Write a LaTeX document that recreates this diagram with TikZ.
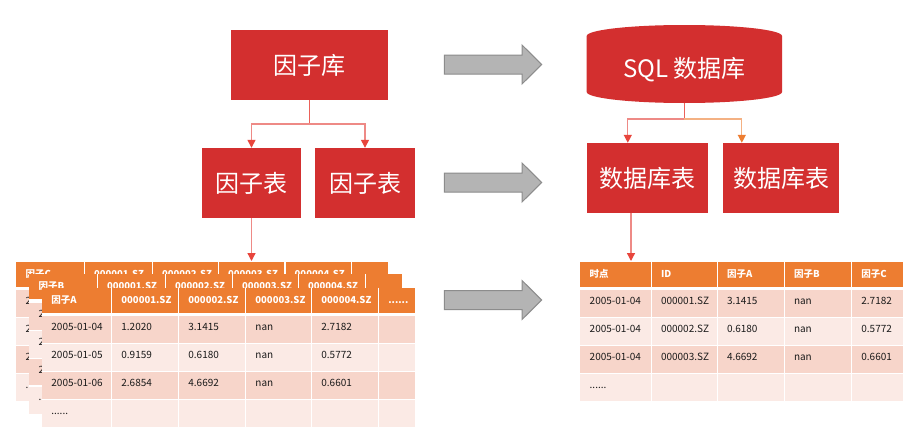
\documentclass[tikz,border=0pt]{standalone}
\usepackage{fontspec}
\setmainfont{Noto Sans CJK SC}
\usetikzlibrary{arrows.meta}
\definecolor{boxred}{HTML}{D32F2F}
\definecolor{hdr}{HTML}{ED7D31}
\definecolor{bandA}{HTML}{F7D5CA}
\definecolor{bandB}{HTML}{FBEAE5}
\definecolor{grayfill}{HTML}{B4B4B4}
\definecolor{grayline}{HTML}{8C8C8C}
\definecolor{connred}{HTML}{E8453C}
\definecolor{connpink}{HTML}{EE8A86}
\definecolor{connorange}{HTML}{ED7D31}
\definecolor{connlorange}{HTML}{F4B183}
\definecolor{celltext}{HTML}{1A1A1A}
\newcommand\sixdots{......}

\tikzset{
  redbox/.style={fill=boxred, text=white, font=\fontsize{24}{28}\selectfont, inner sep=0pt},
  sep/.style={white, line width=1.3pt},
  hdrtxt/.style={anchor=base west, inner sep=0pt, text=white, font=\bfseries\fontsize{9.5}{12}\selectfont},
  celltxt/.style={anchor=base west, inner sep=0pt, text=celltext, font=\fontsize{10}{12}\selectfont},
  garrow/.style={fill=grayfill, draw=grayline, line width=1pt, line join=miter},
  redtip/.style={-{Triangle[width=8pt,length=8pt,color=connred]}},
  orangetip/.style={-{Triangle[width=8pt,length=8pt,color=connorange]}},
  pinkline/.style={draw=connpink, line width=1.3pt},
  trunkline/.style={draw=connred!85!white, line width=1.3pt},
  orangeline/.style={draw=connlorange, line width=1.3pt},
}

% #1 name prefix, #2 column starts, #3 column extents a/b, #4 width, #5 header texts, #6 rows
\newcommand\drawtbl[6]{%
  \fill[white] (0,0) rectangle (#4,139.5);
  \foreach \a/\b in {#3} {
    \fill[hdr] (\a,0) rectangle (\b,25);
    \fill[bandA] (\a,28.3) rectangle (\b,56.1);
    \fill[bandB] (\a,56.1) rectangle (\b,83.9);
    \fill[bandA] (\a,83.9) rectangle (\b,111.7);
    \fill[bandB] (\a,111.7) rectangle (\b,139.5);
  }
  \foreach \a/\b in {#3} {\ifdim\a pt>0pt \draw[sep] (\a,0) -- (\a,139.5);\fi}
  \foreach \yy in {56.1,83.9,111.7} {\draw[sep] (0,\yy) -- (#4,\yy);}
  \foreach \txt [count=\cc from 0] in {#5} {
    \pgfmathsetmacro\xx{{#2}[\cc]}
    \node[hdrtxt] (#1-h\cc) at (\xx+9.5,15.5) {\txt};
  }
  \foreach \row [count=\rr from 0] in {#6} {
    \foreach \txt [count=\cc from 0] in \row {
      \pgfmathsetmacro\xx{{#2}[\cc]}
      \pgfmathsetmacro\yy{42.2+27.8*\rr+1}
      \node[celltxt] (#1-\rr-\cc) at (\xx+9.5,\yy) {\txt};
    }
  }
}

\begin{document}
\begin{tikzpicture}[x=1pt,y=-1pt]
\useasboundingbox (0,0) rectangle (919,442);
\fill[white] (0,0) rectangle (919,442);

% left tree
\node[redbox, minimum width=157pt, minimum height=70pt] (lib) at (309.5,65) {因子库};
\node[redbox, minimum width=99pt, minimum height=70pt] (t1) at (251.5,183) {因子表};
\node[redbox, minimum width=100pt, minimum height=70pt] (t2) at (365,183) {因子表};
\coordinate (libj) at (309.5,124);
\draw[trunkline] (lib.south) -- (libj);
\draw[pinkline, redtip] (libj) -| (t1.north);
\draw[pinkline, redtip] (libj) -| (t2.north);

% right tree: cylinder
\fill[boxred] (586.7,36) arc[start angle=180, end angle=0, x radius=97.65pt, y radius=11pt]
  -- (782,92) arc[start angle=0, end angle=-180, x radius=97.65pt, y radius=11pt] -- cycle;
\node[redbox, minimum width=195pt, minimum height=66pt, fill=none] (sql) at (684.3,70) {SQL 数据库};
\node[redbox, minimum width=121pt, minimum height=70pt] (db1) at (647.5,178) {数据库表};
\node[redbox, minimum width=116pt, minimum height=70pt] (db2) at (781,178) {数据库表};
\coordinate (sqlj) at (684.3,119);
\draw[trunkline] (sql.south) -- (sqlj);
\draw[pinkline, redtip] (sqlj) -| ([xshift=41pt]db1.north west);
\draw[orangeline, orangetip] (sqlj) -| ([xshift=19pt]db2.north west);

% gray arrows
\foreach \yc in {64.5,182.5,300} {
  \filldraw[garrow] (444.3,\yc-9.5) -- (522,\yc-9.5) -- (522,\yc-19.5) -- (541.7,\yc)
    -- (522,\yc+19.5) -- (522,\yc+9.5) -- (444.3,\yc+9.5) -- cycle;
}

% left tables (C and B lie under A; only their visible texts are set)
\begin{scope}[shift={(16,261.7)}]
\drawtbl{C}{0,68.3,136.3,202.3,269,335.7}{0/68.3,68.3/136.3,136.3/202.3,202.3/269,269/335.7,335.7/371.7}{371.7}
  {因子C,000001.SZ,000002.SZ,000003.SZ,000004.SZ}
  {{2005-01-04},{2005-01-05},{2005-01-06},{\sixdots}}
\end{scope}
\begin{scope}[shift={(29,274.3)}]
\drawtbl{B}{0,68.3,136.3,203.3,269.3,336.7}{0/68.3,68.3/136.3,136.3/203.3,203.3/269.3,269.3/336.7,336.7/372.7}{372.7}
  {因子B,000001.SZ,000002.SZ,000003.SZ,000004.SZ}
  {{2005-01-04},{2005-01-05},{2005-01-06},{\sixdots}}
\end{scope}
\begin{scope}[shift={(41.7,287.7)}]
\drawtbl{A}{0,70,137,204,270,337}{0/70,70/137,137/204,204/270,270/337,337/373.3}{373.3}
  {因子A,000001.SZ,000002.SZ,000003.SZ,000004.SZ,\sixdots}
  {{2005-01-04,1.2020,3.1415,nan,2.7182},{2005-01-05,0.9159,0.6180,nan,0.5772},{2005-01-06,2.6854,4.6692,nan,0.6601},{\sixdots}}
\end{scope}
\coordinate (ctop) at (251.5,261);
\draw[pinkline, redtip] (t1.south) -- (ctop);

% right table
\begin{scope}[shift={(580,261.7)}]
\drawtbl{R}{0,71.3,137.3,204.3,271.7}{0/71.3,71.3/137.3,137.3/204.3,204.3/271.7,271.7/322.7}{322.7}
  {时点,ID,因子A,因子B,因子C}
  {{2005-01-04,000001.SZ,3.1415,nan,2.7182},{2005-01-04,000002.SZ,0.6180,nan,0.5772},{2005-01-04,000003.SZ,4.6692,nan,0.6601},{\sixdots}}
\end{scope}
\coordinate (rtop) at (631,261);
\draw[pinkline, redtip] (db1.south -| rtop) -- (rtop);
\end{tikzpicture}
\end{document}
